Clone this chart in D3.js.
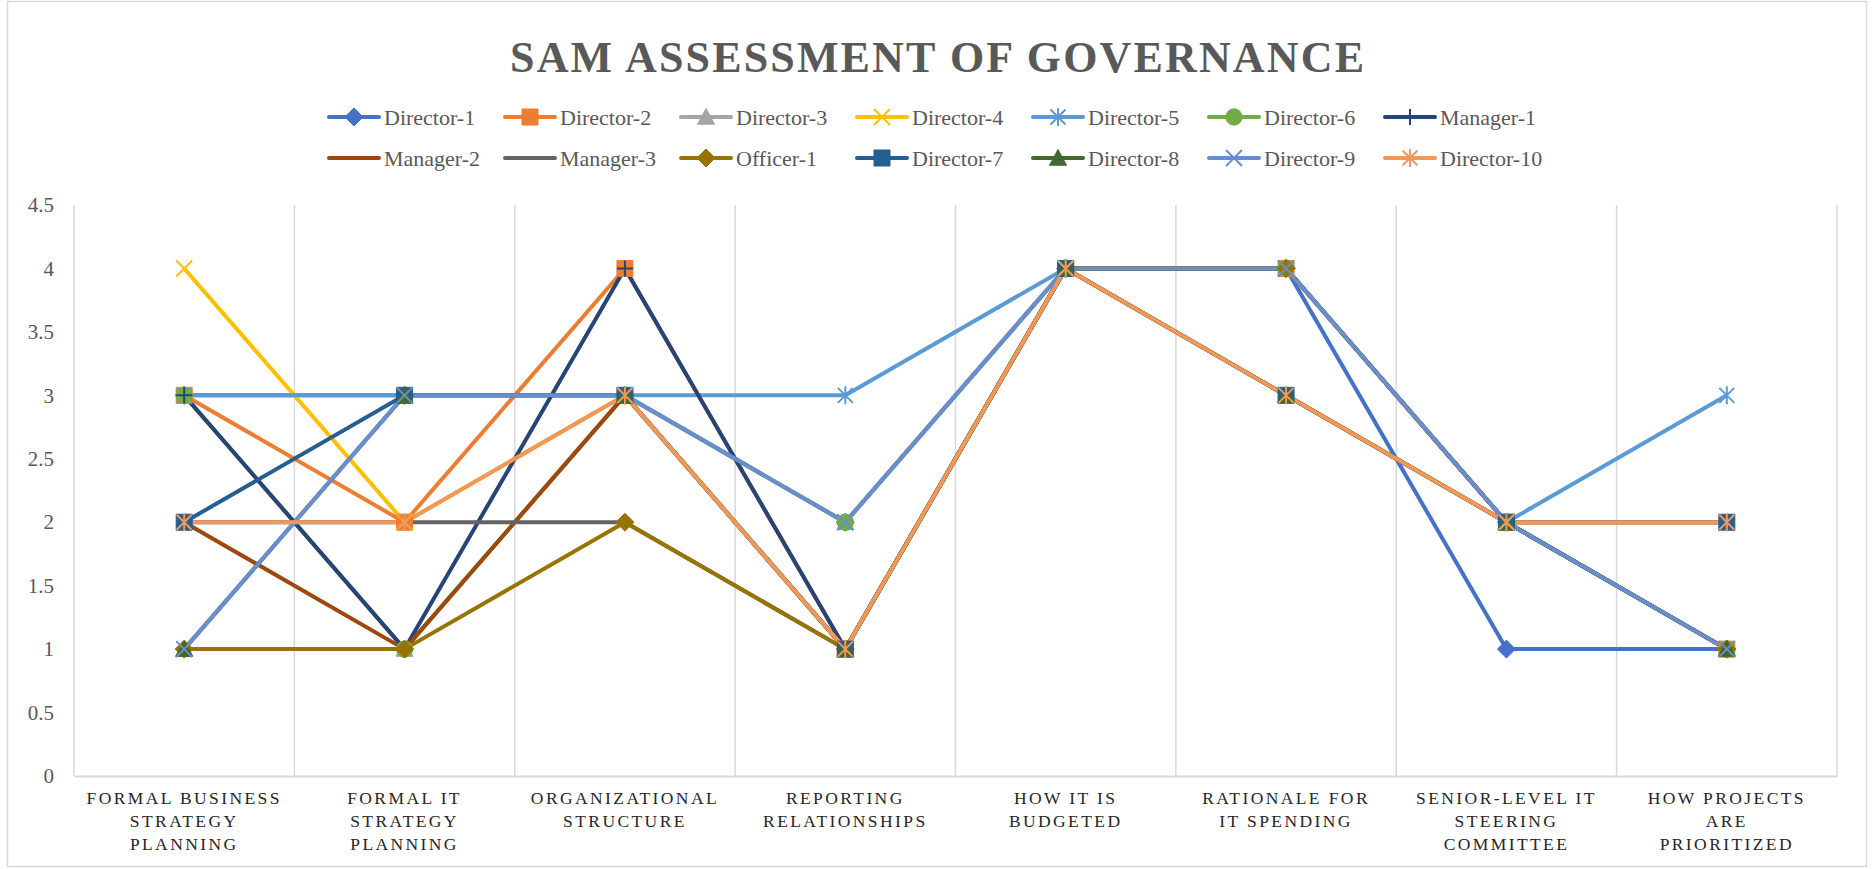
<!DOCTYPE html>
<html>
<head>
<meta charset="utf-8">
<script src="https://cdn.jsdelivr.net/npm/d3@7"></script>
<style>
  body { margin: 0; background: #fff; }
  svg text { font-family: "Liberation Serif", "Times New Roman", serif !important; }
</style>
</head>
<body>
<script>
// categories (x axis), each label split into its printed lines
const categories = [
  ["FORMAL BUSINESS", "STRATEGY", "PLANNING"],
  ["FORMAL IT", "STRATEGY", "PLANNING"],
  ["ORGANIZATIONAL", "STRUCTURE"],
  ["REPORTING", "RELATIONSHIPS"],
  ["HOW IT IS", "BUDGETED"],
  ["RATIONALE FOR", "IT SPENDING"],
  ["SENIOR-LEVEL IT", "STEERING", "COMMITTEE"],
  ["HOW PROJECTS", "ARE", "PRIORITIZED"]
];
const yTicks = [0, 0.5, 1, 1.5, 2, 2.5, 3, 3.5, 4, 4.5];

// scores
const director1  = [3, 3, 3, 2, 4, 4, 1, 1];
const director2  = [3, 2, 4, 1, 4, 4, 2, 1];
const director3  = [1, 1, 3, 2, 4, 4, 2, 1];
const director4  = [4, 2, 3, 1, 4, 3, 2, 2];
const director5  = [3, 3, 3, 3, 4, 4, 2, 3];
const director6  = [3, 1, 3, 2, 4, 4, 2, 1];
const manager1   = [3, 1, 4, 1, 4, 4, 2, 1];
const manager2   = [2, 1, 3, 1, 4, 3, 2, 2];
const manager3   = [2, 2, 2, 1, 4, 4, 2, 1];
const officer1   = [1, 1, 2, 1, 4, 4, 2, 1];
const director7  = [2, 3, 3, 1, 4, 3, 2, 2];
const director8  = [1, 3, 3, 1, 4, 3, 2, 1];
const director9  = [1, 3, 3, 2, 4, 4, 2, 1];
const director10 = [2, 2, 3, 1, 4, 3, 2, 2];

const seriesNames = ["Director-1", "Director-2", "Director-3", "Director-4", "Director-5",
  "Director-6", "Manager-1", "Manager-2", "Manager-3", "Officer-1", "Director-7",
  "Director-8", "Director-9", "Director-10"];
const seriesValues = [director1, director2, director3, director4, director5, director6,
  manager1, manager2, manager3, officer1, director7, director8, director9, director10];
const colors = ["#4472C4", "#ED7D31", "#A5A5A5", "#FFC000", "#5B9BD5", "#70AD47", "#264478",
  "#9E480E", "#636363", "#997300", "#255E91", "#43682B", "#698ED0", "#F1975A"];
const markers = ["diamond", "square", "triangle", "x", "star", "circle", "plus",
  null, null, "diamond", "square", "triangle", "x", "star"];

const series = seriesNames.map((name, i) => ({
  name, values: seriesValues[i], color: colors[i], marker: markers[i]
}));

const width = 1874, height = 869;
const margin = { left: 74, right: 37, top: 205, bottom: 93 };
const serif = "'Liberation Serif', 'Times New Roman', serif";

const svg = d3.select("body").append("svg")
    .attr("width", width)
    .attr("height", height)
    .attr("font-family", serif);

svg.append("rect")
    .attr("x", 7.5).attr("y", 1.5)
    .attr("width", width - 15).attr("height", height - 4)
    .attr("fill", "#fff")
    .attr("stroke", "#D9D9D9")
    .attr("stroke-width", 1.5);

const x = d3.scaleBand()
    .domain(d3.range(categories.length))
    .range([margin.left, width - margin.right]);

const y = d3.scaleLinear()
    .domain([0, 4.5])
    .range([height - margin.bottom, margin.top]);

// vertical gridlines at category boundaries
const edges = d3.range(categories.length + 1).map(i => i < categories.length ? x(i) : x(i - 1) + x.bandwidth());
svg.append("g")
  .selectAll("line")
  .data(edges)
  .join("line")
    .attr("x1", d => d).attr("x2", d => d)
    .attr("y1", y(4.5)).attr("y2", y(0))
    .attr("stroke", "#D9D9D9")
    .attr("stroke-width", 1.5);

// y axis
const yAxis = svg.append("g")
    .attr("transform", `translate(${margin.left - 20},0)`)
    .call(d3.axisLeft(y).tickValues(yTicks).tickSize(0).tickFormat(d => String(d)))
    .attr("font-family", serif);
yAxis.select(".domain").remove();
yAxis.selectAll("text")
    .attr("x", 0)
    .attr("fill", "#595959")
    .style("font-size", "21px");

// x axis
const xAxis = svg.append("g")
    .attr("transform", `translate(0,${y(0)})`)
    .call(d3.axisBottom(x).tickSize(0).tickFormat(""))
    .attr("font-family", serif);
xAxis.select(".domain")
    .attr("stroke", "#D9D9D9")
    .attr("stroke-width", 2);
xAxis.selectAll(".tick").each(function(i) {
  const t = d3.select(this).append("text")
      .attr("fill", "#262626")
      .attr("text-anchor", "middle")
      .style("font-size", "17.5px")
      .style("letter-spacing", "2.4px");
  t.selectAll("tspan")
    .data(categories[i])
    .join("tspan")
      .attr("x", 0)
      .attr("y", (d, k) => 28 + k * 23)
      .text(d => d);
});

function markerPath(type, r) {
  switch (type) {
    case "diamond": return `M0,${-r}L${r},0L0,${r}L${-r},0Z`;
    case "square": return `M${-r},${-r}H${r}V${r}H${-r}Z`;
    case "triangle": return `M0,${-r}L${r},${r * 0.85}L${-r},${r * 0.85}Z`;
    case "x": return `M${-r},${-r}L${r},${r}M${r},${-r}L${-r},${r}`;
    case "star": return `M${-r},${-r}L${r},${r}M${r},${-r}L${-r},${r}M0,${-r * 1.2}V${r * 1.2}`;
    case "plus": return `M${-r},0H${r}M0,${-r}V${r}`;
    case "circle": return `M${r},0A${r},${r} 0 1,1 ${-r},0A${r},${r} 0 1,1 ${r},0Z`;
  }
  return "";
}
const markerSize = { diamond: 9, square: 8, triangle: 8.5, x: 8, star: 7.5, plus: 8, circle: 8.2 };
const strokeOnly = t => t === "x" || t === "star" || t === "plus";

function drawMarker(sel, s) {
  sel.append("path")
      .attr("d", markerPath(s.marker, markerSize[s.marker]))
      .attr("fill", strokeOnly(s.marker) ? "none" : s.color)
      .attr("stroke", s.color)
      .attr("stroke-width", strokeOnly(s.marker) ? 2 : 1);
}

const line = d3.line()
    .x((d, i) => x(i) + x.bandwidth() / 2)
    .y(d => y(d));

// lines first, then markers on top (as Excel does)
svg.append("g")
  .selectAll("path")
  .data(series)
  .join("path")
    .attr("d", d => line(d.values))
    .attr("fill", "none")
    .attr("stroke", d => d.color)
    .attr("stroke-width", 4)
    .attr("stroke-linejoin", "round");

const markerG = svg.append("g");
series.forEach(s => {
  if (!s.marker) return;
  s.values.forEach((v, i) => {
    const g = markerG.append("g")
        .attr("transform", `translate(${x(i) + x.bandwidth() / 2},${y(v)})`);
    drawMarker(g, s);
  });
});

// title
svg.append("text")
    .attr("x", width / 2)
    .attr("y", 72)
    .attr("text-anchor", "middle")
    .attr("fill", "#595959")
    .attr("textLength", 854)
    .attr("lengthAdjust", "spacing")
    .style("font-size", "44px")
    .style("font-weight", "bold")
    .text("SAM ASSESSMENT OF GOVERNANCE");

// legend, two rows of seven
const legend = svg.append("g");
const legendX0 = 329, legendDX = 176, legendRows = [117, 158];
series.forEach((s, i) => {
  const col = i % 7, row = Math.floor(i / 7);
  const g = legend.append("g")
      .attr("transform", `translate(${legendX0 + col * legendDX},${legendRows[row]})`);
  g.append("line")
      .attr("x1", 0).attr("x2", 50)
      .attr("stroke", s.color)
      .attr("stroke-width", 4)
      .attr("stroke-linecap", "round");
  if (s.marker) {
    const m = g.append("g").attr("transform", "translate(25,0)");
    drawMarker(m, s);
  }
  g.append("text")
      .attr("x", 55)
      .attr("dy", "0.35em")
      .attr("fill", "#595959")
      .style("font-size", "22px")
      .text(s.name);
});
</script>
</body>
</html>
